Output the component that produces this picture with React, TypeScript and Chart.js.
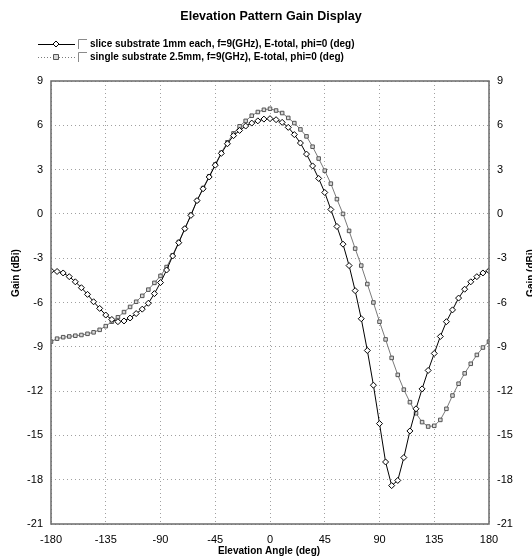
import React, { useEffect, useRef } from "react";
import { Chart, registerables } from "chart.js";

Chart.register(...registerables);

const angles = [
  -180, -175, -170, -165, -160, -155, -150, -145, -140, -135, -130, -125,
  -120, -115, -110, -105, -100, -95, -90, -85, -80, -75, -70, -65,
  -60, -55, -50, -45, -40, -35, -30, -25, -20, -15, -10, -5,
  0, 5, 10, 15, 20, 25, 30, 35, 40, 45, 50, 55,
  60, 65, 70, 75, 80, 85, 90, 95, 100, 105, 110, 115,
  120, 125, 130, 135, 140, 145, 150, 155, 160, 165, 170, 175, 180,
];

const sliceGain = [
  -3.85, -3.9, -4.0, -4.25, -4.6, -5.0, -5.45, -5.95, -6.4, -6.85, -7.15, -7.3,
  -7.25, -7.05, -6.75, -6.45, -6.05, -5.4, -4.65, -3.8, -2.85, -1.95, -1.0, -0.1,
  0.9, 1.7, 2.5, 3.3, 4.1, 4.75, 5.3, 5.65, 5.95, 6.15, 6.3, 6.42,
  6.45, 6.38, 6.2, 5.86, 5.37, 4.8, 4.05, 3.25, 2.4, 1.45, 0.3, -0.85,
  -2.05, -3.5, -5.2, -7.1, -9.25, -11.6, -14.2, -16.8, -18.4, -18.05, -16.5, -14.7,
  -13.2, -11.85, -10.6, -9.45, -8.3, -7.3, -6.5, -5.7, -5.1, -4.6, -4.25, -4.0, -3.85,
];

const singleGain = [
  -8.65, -8.45, -8.35, -8.3, -8.25, -8.2, -8.12, -8.02, -7.85, -7.6, -7.3, -7.0,
  -6.65, -6.3, -5.95, -5.55, -5.13, -4.67, -4.2, -3.6, -2.8, -1.9, -1.0, -0.05,
  0.9, 1.75, 2.55, 3.35, 4.15, 4.85, 5.45, 5.93, 6.3, 6.65, 6.9, 7.05,
  7.12, 7.0, 6.83, 6.5, 6.15, 5.72, 5.25, 4.55, 3.75, 2.93, 2.05, 1.0,
  0.0, -1.15, -2.35, -3.5, -4.75, -6.0, -7.3, -8.5, -9.75, -10.9, -11.9, -12.75,
  -13.5, -14.1, -14.4, -14.35, -13.95, -13.2, -12.3, -11.5, -10.8, -10.15, -9.55, -9.05, -8.65,
];

const seriesLabels = [
  "slice substrate 1mm each, f=9(GHz), E-total, phi=0 (deg)",
  "single substrate 2.5mm, f=9(GHz), E-total, phi=0 (deg)",
];

const titleText = "Elevation Pattern Gain Display";
const xTitle = "Elevation Angle (deg)";
const yTitle = "Gain (dBi)";

const xMin = -180;
const xMax = 180;
const xStep = 45;
const yMin = -21;
const yMax = 9;
const yStep = 3;

const FONT = "'Liberation Sans', Arial, sans-serif";

const decorPlugin = {
  id: "decor",
  afterDraw(chart: any) {
    const { ctx, chartArea } = chart;
    ctx.save();
    // frame
    ctx.strokeStyle = "#6a6a6a";
    ctx.lineWidth = 1.5;
    ctx.setLineDash([]);
    ctx.strokeRect(chartArea.left, chartArea.top, chartArea.right - chartArea.left, chartArea.bottom - chartArea.top);

    // title
    ctx.fillStyle = "#000";
    ctx.font = `bold 12.5px ${FONT}`;
    ctx.textAlign = "center";
    ctx.textBaseline = "middle";
    ctx.fillText(titleText, 271, 17);

    // legend
    chart.data.datasets.forEach((ds: any, i: number) => {
      const y = 44 + i * 13;
      ctx.save();
      ctx.strokeStyle = ds.borderColor;
      ctx.lineWidth = 1;
      if (i === 1) ctx.setLineDash([1, 2]);
      ctx.beginPath();
      ctx.moveTo(38, y + 0.5);
      ctx.lineTo(75, y + 0.5);
      ctx.stroke();
      ctx.setLineDash([]);
      ctx.fillStyle = ds.pointBackgroundColor;
      ctx.strokeStyle = ds.pointBorderColor;
      ctx.beginPath();
      const mx = 56;
      if (ds.pointStyle === "rectRot") {
        ctx.moveTo(mx, y - 3);
        ctx.lineTo(mx + 3, y);
        ctx.lineTo(mx, y + 3);
        ctx.lineTo(mx - 3, y);
        ctx.closePath();
      } else {
        ctx.rect(mx - 2.5, y - 2.5, 5, 5);
      }
      ctx.fill();
      ctx.stroke();
      // checkbox
      ctx.strokeStyle = "#8a8a8a";
      ctx.beginPath();
      ctx.moveTo(78.5, y + 5);
      ctx.lineTo(78.5, y - 4.5);
      ctx.lineTo(87, y - 4.5);
      ctx.stroke();
      ctx.restore();
      ctx.fillStyle = "#000";
      ctx.font = `bold 10px ${FONT}`;
      ctx.textAlign = "left";
      ctx.textBaseline = "middle";
      ctx.fillText(ds.label, 90, y);
    });

    // axis titles
    ctx.font = `bold 10px ${FONT}`;
    ctx.textAlign = "center";
    ctx.textBaseline = "middle";
    ctx.fillText(xTitle, 269, 551);
    ctx.save();
    ctx.translate(16, 273);
    ctx.rotate(-Math.PI / 2);
    ctx.fillText(yTitle, 0, 0);
    ctx.restore();
    ctx.save();
    ctx.translate(531, 273);
    ctx.rotate(-Math.PI / 2);
    ctx.fillText(yTitle, 0, 0);
    ctx.restore();
    ctx.restore();
  },
};

export default function App() {
  const ref = useRef<HTMLCanvasElement | null>(null);
  useEffect(() => {
    document.body.style.margin = "0";
    const canvas = ref.current;
    if (!canvas) return;
    const tickFont = { family: FONT, size: 11 };
    const gridOpts = { color: "#a0a0a0", lineWidth: 1, drawTicks: false };
    const chart = new Chart(canvas, {
      type: "line",
      data: {
        datasets: [
          {
            label: seriesLabels[0],
            data: angles.map((a, i) => ({ x: a, y: sliceGain[i] })),
            borderColor: "#000000",
            borderWidth: 1,
            pointStyle: "rectRot",
            pointRadius: 3,
            pointBorderWidth: 1,
            pointBorderColor: "#000000",
            pointBackgroundColor: "#ffffff",
            tension: 0,
          },
          {
            label: seriesLabels[1],
            data: angles.map((a, i) => ({ x: a, y: singleGain[i] })),
            borderColor: "#7a7a7a",
            borderWidth: 1,
            pointStyle: "rect",
            pointRadius: 2.5,
            pointBorderWidth: 1,
            pointBorderColor: "#555555",
            pointBackgroundColor: "#d8d8d8",
            tension: 0,
          },
        ],
      },
      options: {
        animation: false,
        responsive: false,
        devicePixelRatio: 1,
        layout: { padding: { top: 81, left: 0, right: 0, bottom: 0 } },
        plugins: {
          legend: { display: false },
          title: { display: false },
          tooltip: { enabled: false },
        },
        scales: {
          x: {
            type: "linear",
            position: "bottom",
            min: xMin,
            max: xMax,
            ticks: { stepSize: xStep, font: tickFont, color: "#000", padding: 9, maxRotation: 0, autoSkip: false },
            grid: gridOpts,
            border: { display: false, dash: [1, 3] },
            afterFit: (s: any) => { s.height = 34; },
          },
          y: {
            type: "linear",
            position: "left",
            min: yMin,
            max: yMax,
            ticks: { stepSize: yStep, font: tickFont, color: "#000", padding: 8 },
            grid: gridOpts,
            border: { display: false, dash: [1, 3] },
            afterFit: (s: any) => { s.width = 51; },
          },
          y2: {
            type: "linear",
            position: "right",
            min: yMin,
            max: yMax,
            ticks: { stepSize: yStep, font: tickFont, color: "#000", padding: 8 },
            grid: { display: false, drawTicks: false },
            border: { display: false },
            afterFit: (s: any) => { s.width = 43; },
          },
        },
      } as any,
      plugins: [decorPlugin],
    });
    return () => chart.destroy();
  }, []);
  return (
    <div style={{ width: 532, height: 558 }}>
      <canvas ref={ref} width={532} height={558} style={{ display: "block" }} />
    </div>
  );
}
